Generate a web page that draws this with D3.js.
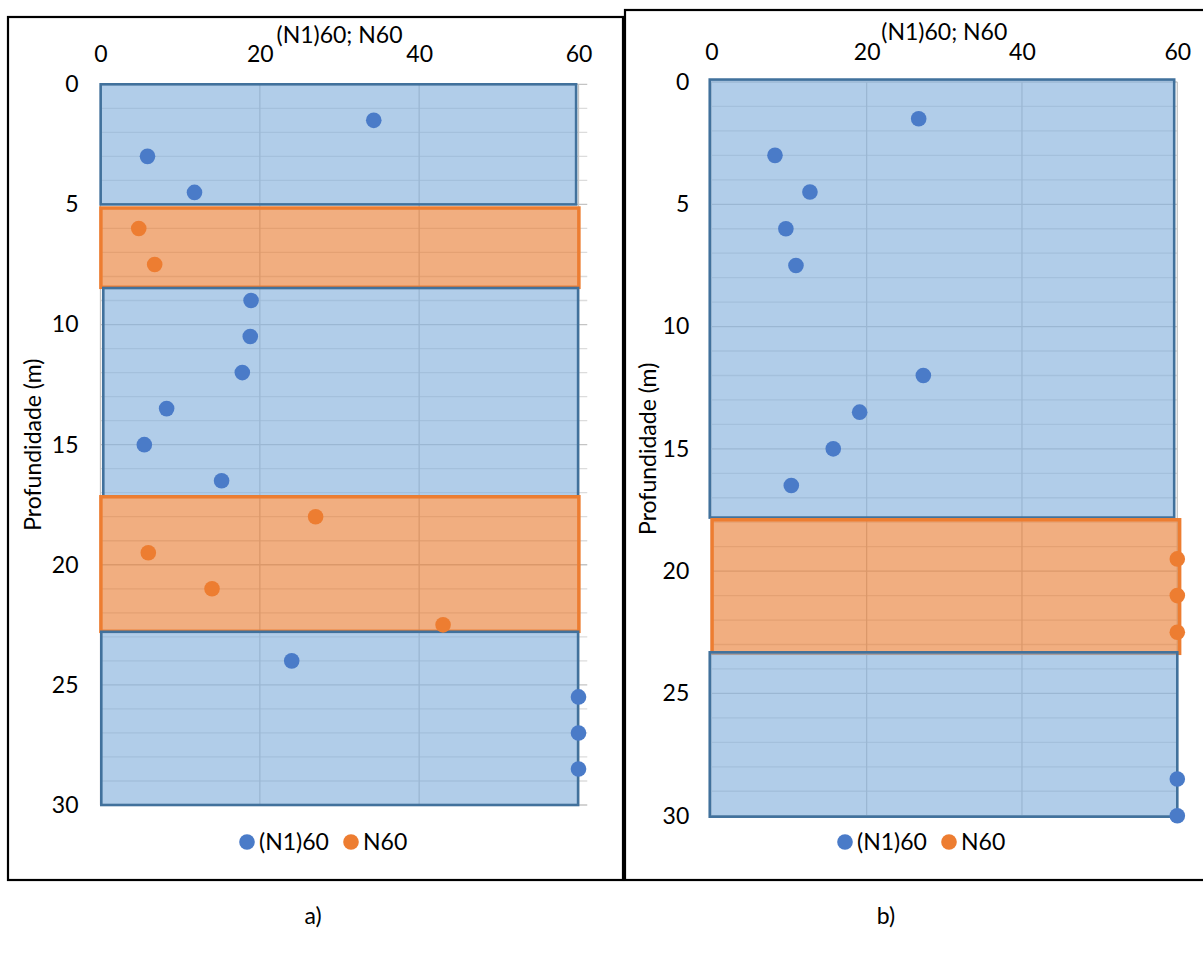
<!DOCTYPE html>
<html>
<head>
<meta charset="utf-8">
<script src="https://cdn.jsdelivr.net/npm/d3@7"></script>
<style>
  html, body { margin: 0; padding: 0; background: #ffffff; }
  svg { display: block; }
  text { font-family: Lato, "Open Sans", sans-serif; fill: #000; }
</style>
</head>
<body>
<svg id="chart" width="1203" height="956"></svg>
<script>
// ---------------- DATA ----------------
const xTicks = [0, 20, 40, 60];
const yTicks = [0, 5, 10, 15, 20, 25, 30];
const xTitle = "(N1)60; N60";
const yTitle = "Profundidade (m)";
const seriesNames = ["(N1)60", "N60"];
const panelLabels = ["a)", "b)"];

// Panel a) points
const depthA_N160 = [1.5, 3, 4.5, 9, 10.5, 12, 13.5, 15, 16.5, 24, 25.5, 27, 28.5];
const valA_N160   = [34.3, 5.9, 11.8, 18.9, 18.8, 17.8, 8.3, 5.5, 15.2, 24.0, 60, 60, 60];
const depthA_N60  = [6, 7.5, 18, 19.5, 21, 22.5];
const valA_N60    = [4.8, 6.8, 27.0, 6.0, 14.0, 43.0];

// Panel a) soil layers (depth in m, extent in N units)
const layerTypeA  = ["N160", "N60", "N160", "N60", "N160"];
const layerTopA   = [0, 5.15, 8.48, 17.17, 22.79];
const layerBotA   = [5.0, 8.45, 17.15, 22.77, 30];
const layerXminA  = [0.02, 0.05, 0.35, 0.05, 0.1];
const layerXmaxA  = [59.7, 60.05, 59.95, 60.05, 59.95];

// Panel b) points
const depthB_N160 = [1.5, 3, 4.5, 6, 7.5, 12, 13.5, 15, 16.5, 28.5, 30];
const valB_N160   = [26.7, 8.2, 12.7, 9.6, 10.9, 27.3, 19.1, 15.7, 10.3, 60, 60];
const depthB_N60  = [19.5, 21, 22.5];
const valB_N60    = [60, 60, 60];

// Panel b) soil layers
const layerTypeB  = ["N160", "N60", "N160"];
const layerTopB   = [-0.1, 17.9, 23.32];
const layerBotB   = [17.81, 23.36, 30.04];
const layerXminB  = [-0.2, 0.1, -0.2];
const layerXmaxB  = [59.6, 60.3, 60.0];

// ---------------- STYLE ----------------
const COL = {
  N160: { dot: "#4a7bc8", fill: "rgb(132,176,220)", stroke: "#41719c", sw: 2.6 },
  N60:  { dot: "#ed7d31", fill: "rgb(233,127,54)", stroke: "#ed7d31", sw: 3.5 }
};
const FONT = 23;

const svg = d3.select("#chart");

function drawPanel(cfg) {
  const x = d3.scaleLinear().domain([0, 60]).range(cfg.xr);
  const y = d3.scaleLinear().domain([0, 30]).range(cfg.yr);
  const g = svg.append("g");

  // frame
  g.append("rect")
    .attr("x", cfg.frame[0]).attr("y", cfg.frame[1])
    .attr("width", cfg.frame[2]).attr("height", cfg.frame[3])
    .attr("fill", "none").attr("stroke", "#000").attr("stroke-width", 2.2);

  // gridlines (minor every 1 m, major every 5 m)
  const hMinor = d3.range(0, 31, 1);
  g.append("g").selectAll("line").data(hMinor).join("line")
    .attr("x1", x(0)).attr("x2", x(cfg.gridXmax))
    .attr("y1", d => y(d)).attr("y2", d => y(d))
    .attr("stroke", d => d % 5 === 0 ? "#c4c4c4" : "#dcdcdc")
    .attr("stroke-width", 1.3);
  g.append("g").selectAll("line").data(xTicks).join("line")
    .attr("x1", d => x(d)).attr("x2", d => x(d))
    .attr("y1", y(0)).attr("y2", y(30))
    .attr("stroke", "#c4c4c4").attr("stroke-width", 1.3);

  // layers
  const layers = cfg.layerType.map((t, i) => ({
    t, top: cfg.layerTop[i], bot: cfg.layerBot[i], x0: cfg.layerXmin[i], x1: cfg.layerXmax[i]
  }));
  g.append("g").selectAll("rect").data(layers).join("rect")
    .attr("x", d => x(d.x0)).attr("y", d => y(d.top))
    .attr("width", d => x(d.x1) - x(d.x0)).attr("height", d => y(d.bot) - y(d.top))
    .attr("fill", d => COL[d.t].fill).attr("fill-opacity", 0.63)
    .attr("stroke", d => COL[d.t].stroke).attr("stroke-width", d => COL[d.t].sw);

  // axes
  const ax = g.append("g").attr("transform", `translate(0,${y(0)})`)
    .call(d3.axisTop(x).tickValues(xTicks).tickSize(0).tickPadding(cfg.xPad).tickFormat(d3.format("d")));
  ax.select(".domain").remove();
  ax.selectAll("text").attr("font-size", FONT).attr("font-family", "Lato").attr("fill", "#000");

  const ay = g.append("g").attr("transform", `translate(${x(0)},0)`)
    .call(d3.axisLeft(y).tickValues(yTicks).tickSize(0).tickPadding(22).tickFormat(d3.format("d")));
  ay.select(".domain").remove();
  ay.selectAll("text").attr("font-size", FONT).attr("font-family", "Lato").attr("fill", "#000");

  // titles
  g.append("text")
    .attr("x", (cfg.xr[0] + cfg.xr[1]) / 2).attr("y", y(0) - cfg.titleOff)
    .attr("text-anchor", "middle").attr("font-size", FONT).text(xTitle);
  g.append("text")
    .attr("transform", `translate(${cfg.yTitleX},${(cfg.yr[0] + cfg.yr[1]) / 2}) rotate(-90)`)
    .attr("text-anchor", "middle").attr("dy", "0.35em").attr("font-size", FONT).text(yTitle);

  // points
  const pts = [];
  cfg.dN160.forEach((d, i) => pts.push({ s: "N160", d, v: cfg.vN160[i] }));
  cfg.dN60.forEach((d, i) => pts.push({ s: "N60", d, v: cfg.vN60[i] }));
  g.append("g").selectAll("circle").data(pts).join("circle")
    .attr("cx", d => x(d.v)).attr("cy", d => y(d.d)).attr("r", 7.8)
    .attr("fill", d => COL[d.s].dot);

  // legend
  const lg = g.append("g").attr("transform", `translate(${cfg.legX},${cfg.legY})`);
  lg.append("circle").attr("cx", 0).attr("cy", 0).attr("r", 7.8).attr("fill", COL.N160.dot);
  lg.append("text").attr("x", 12).attr("y", 0).attr("dy", "0.35em").attr("font-size", FONT).text(seriesNames[0]);
  lg.append("circle").attr("cx", 104).attr("cy", 0).attr("r", 7.8).attr("fill", COL.N60.dot);
  lg.append("text").attr("x", 116).attr("y", 0).attr("dy", "0.35em").attr("font-size", FONT).text(seriesNames[1]);

  // panel label
  svg.append("text").attr("x", cfg.labelX).attr("y", 924)
    .attr("text-anchor", "middle").attr("font-size", FONT).text(cfg.label);
}

drawPanel({
  xr: [100.5, 578.5], yr: [84.3, 805],
  frame: [8, 17, 615, 863],
  gridXmax: 61.1, xPad: 22, titleOff: 41, yTitleX: 33,
  layerType: layerTypeA, layerTop: layerTopA, layerBot: layerBotA, layerXmin: layerXminA, layerXmax: layerXmaxA,
  dN160: depthA_N160, vN160: valA_N160, dN60: depthA_N60, vN60: valA_N60,
  legX: 247, legY: 842, labelX: 313, label: panelLabels[0]
});

drawPanel({
  xr: [711.3, 1177.3], yr: [82, 815.7],
  frame: [625, 10, 580, 870],
  gridXmax: 60, xPad: 22, titleOff: 42, yTitleX: 648,
  layerType: layerTypeB, layerTop: layerTopB, layerBot: layerBotB, layerXmin: layerXminB, layerXmax: layerXmaxB,
  dN160: depthB_N160, vN160: valB_N160, dN60: depthB_N60, vN60: valB_N60,
  legX: 845, legY: 842, labelX: 886, label: panelLabels[1]
});
</script>
</body>
</html>
